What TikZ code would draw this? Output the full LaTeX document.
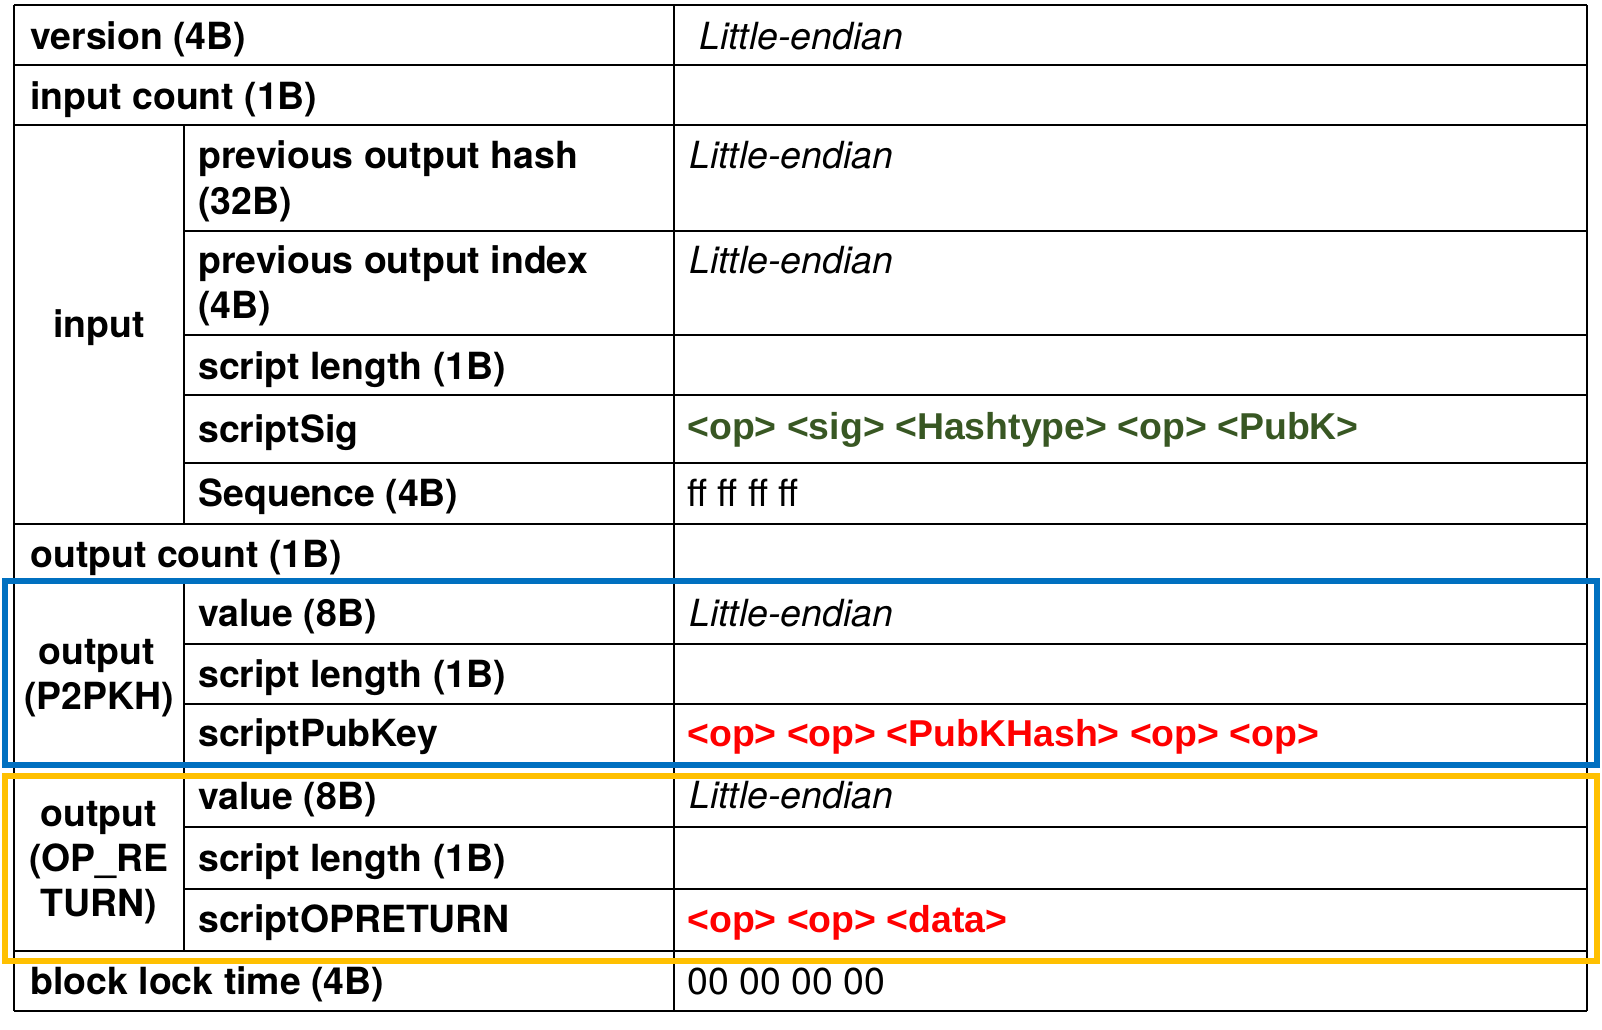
\documentclass[tikz,border=0pt]{standalone}
\usepackage{fontspec}
\setmainfont{TeX Gyre Heros}
\newfontfamily\scrfamily{Liberation Sans}
\definecolor{boxblue}{HTML}{0070C0}
\definecolor{boxyellow}{HTML}{FFC000}
\definecolor{sigGreen}{HTML}{385723}
\definecolor{pkRed}{HTML}{FF0000}
\begin{document}
\begin{tikzpicture}[x=0.5pt,y=-0.5pt,
  grid/.style={line width=1pt,draw=black},
  lbl/.style={inner sep=0pt,anchor=base west,font=\fontsize{18.7}{22}\selectfont\bfseries},
  grp/.style={inner sep=0pt,anchor=base,font=\fontsize{18.7}{22}\selectfont\bfseries},
  val/.style={inner sep=0pt,anchor=base west,font=\fontsize{18.7}{22}\selectfont},
  endian/.style={val,font=\fontsize{18.7}{22}\selectfont\itshape},
  scr/.style={val,font=\fontsize{18.7}{22}\selectfont\scrfamily\bfseries},
  hilite/.style={line width=3pt}]
\useasboundingbox (0,0) rectangle (1602,1029);
\fill[white] (0,0) rectangle (1602,1029);
% table grid
\foreach \y in {5,65,125,524,583,766,951,1011}
  \draw[grid] (14,\y) -- (1587,\y);
\foreach \y in {231,335,395,463,644,704,827,889}
  \draw[grid] (184,\y) -- (1587,\y);
\draw[grid] (14,5) -- (14,1011);
\draw[grid] (1587,5) -- (1587,1011);
\draw[grid] (674,5) -- (674,1011);
\draw[grid] (184,125) -- (184,524);
\draw[grid] (184,583) -- (184,951);
% highlight boxes
\draw[hilite,boxblue] (5,581) rectangle (1597,765);
\draw[hilite,boxyellow] (5,776) rectangle (1597,961);
% first column labels
\node[lbl] (ver) at (30,49) {version (4B)};
\node[lbl] (inc) at (30,109) {input count (1B)};
\node[lbl] (outc) at (30,567) {output count (1B)};
\node[lbl] (blt) at (30,994) {block lock time (4B)};
\node[grp] (inp) at (99,337) {input};
\node[grp] (outa) at (97,664) {output};
\node[grp] (outb) at (99,709) {(P2PKH)};
\node[grp] (outc1) at (99,826) {output};
\node[grp] (outc2) at (99,871) {(OP\_RE};
\node[grp] (outc3) at (99,916) {TURN)};
% second column labels
\node[lbl] (pohA) at (198,168) {previous output hash};
\node[lbl] (pohB) at (198,214) {(32B)};
\node[lbl] (poiA) at (198,273) {previous output index};
\node[lbl] (poiB) at (198,318) {(4B)};
\node[lbl] (isl) at (198,379) {script length (1B)};
\node[lbl] (ssig) at (198,442) {scriptSig};
\node[lbl] (seq) at (198,506) {Sequence (4B)};
\node[lbl] (v1) at (198,626) {value (8B)};
\node[lbl] (sl1) at (198,687) {script length (1B)};
\node[lbl] (spk) at (198,746) {scriptPubKey};
\node[lbl] (v2) at (198,809) {value (8B)};
\node[lbl] (sl2) at (198,871) {script length (1B)};
\node[lbl] (sopr) at (198,932) {scriptOPRETURN};
% third column values
\node[endian] (e1) at (699,49) {Little-endian};
\node[endian] (e2) at (689,168) {Little-endian};
\node[endian] (e3) at (689,273) {Little-endian};
\node[scr,text=sigGreen] (sigv) at (687,439) {<op> <sig> <Hashtype> <op> <PubK>};
\node[val] (seqv) at (687,506) {ff ff ff ff};
\node[endian] (e4) at (689,626) {Little-endian};
\node[scr,text=pkRed] (pkv) at (687,746) {<op> <op> <PubKHash> <op> <op>};
\node[endian] (e5) at (689,808) {Little-endian};
\node[scr,text=pkRed] (datv) at (687,932) {<op> <op> <data>};
\node[val] (ltv) at (687,994) {00 00 00 00};
\end{tikzpicture}
\end{document}
